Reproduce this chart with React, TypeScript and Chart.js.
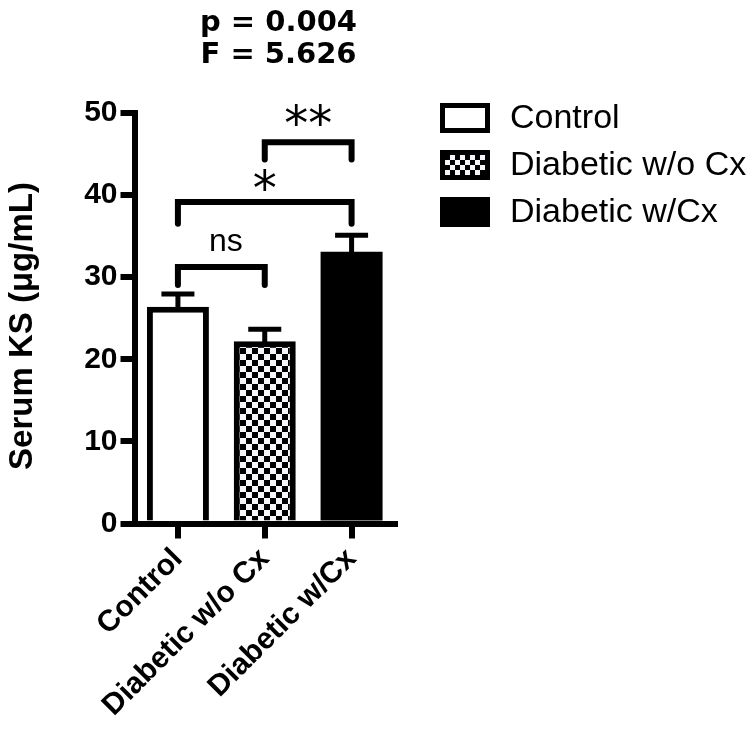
import React, { useEffect, useRef } from 'react';
import { Chart, registerables } from 'chart.js';

Chart.register(...registerables);

// ---- data ----
const categories = ['Control', 'Diabetic w/o Cx', 'Diabetic w/Cx'];
const meanValues = [26.4, 22.2, 33.1];
const errorValues = [1.55, 1.45, 2.0];
const yTickStep = 10;
const yMin = 0;
const yMax = 50;
const yAxisTitle = 'Serum KS (μg/mL)';
const statLines = ['p = 0.004', 'F = 5.626'];

// significance brackets
const bracketFrom = [0, 0, 1];
const bracketTo = [1, 2, 2];
const bracketTop = [31.25, 39.15, 46.45];
const bracketLegEnd = [29.05, 36.5, 44.35];
const bracketLabels = ['ns', '*', '**'];
const bracketLabelValue = [34.2, 41.8, 49.7];

const SANS = '"Liberation Sans", Arial, Helvetica, sans-serif';
const VERD = '"DejaVu Sans", Verdana, sans-serif';

function makeChecker(ctx: CanvasRenderingContext2D, size: number): CanvasPattern | string {
  const c = document.createElement('canvas');
  c.width = size * 2;
  c.height = size * 2;
  const g = c.getContext('2d');
  if (!g) return '#888';
  g.fillStyle = '#f6f6fb';
  g.fillRect(0, 0, size * 2, size * 2);
  g.fillStyle = '#000';
  g.fillRect(0, 0, size, size);
  g.fillRect(size, size, size, size);
  return ctx.createPattern(c, 'repeat') || '#888';
}

function drawCentered(ctx: CanvasRenderingContext2D, text: string, cx: number, cy: number) {
  const m = ctx.measureText(text);
  const asc = m.actualBoundingBoxAscent;
  const desc = m.actualBoundingBoxDescent;
  const left = m.actualBoundingBoxLeft;
  const right = m.actualBoundingBoxRight;
  ctx.textAlign = 'left';
  ctx.textBaseline = 'alphabetic';
  ctx.fillText(text, cx - (right - left) / 2, cy + (asc - desc) / 2);
}

export default function App() {
  const canvasRef = useRef<HTMLCanvasElement | null>(null);

  useEffect(() => {
    const canvas = canvasRef.current;
    if (!canvas) return;
    const ctx = canvas.getContext('2d');
    if (!ctx) return;
    const checker = makeChecker(ctx, 6);
    const legendChecker = makeChecker(ctx, 5);
    const fills = ['#ffffff', checker, '#000000'];
    const legendFills = ['#ffffff', legendChecker, '#000000'];

    const annotations = {
      id: 'annotations',
      afterDraw(chart: any) {
        const c: CanvasRenderingContext2D = chart.ctx;
        const xs = chart.scales.x;
        const ys = chart.scales.y;
        c.save();
        c.fillStyle = '#000';
        c.strokeStyle = '#000';

        // error bars (upper only)
        c.lineWidth = 5;
        c.lineCap = 'butt';
        meanValues.forEach((v, i) => {
          const x = xs.getPixelForValue(i);
          const y0 = ys.getPixelForValue(v);
          const y1 = ys.getPixelForValue(v + errorValues[i]);
          c.beginPath();
          c.moveTo(x, y0 + 3);
          c.lineTo(x, y1);
          c.stroke();
          c.beginPath();
          c.moveTo(x - 16.5, y1);
          c.lineTo(x + 16.5, y1);
          c.stroke();
        });

        // brackets
        c.lineWidth = 6;
        c.lineCap = 'round';
        c.lineJoin = 'miter';
        bracketFrom.forEach((f, i) => {
          const x1 = xs.getPixelForValue(f);
          const x2 = xs.getPixelForValue(bracketTo[i]);
          const yt = ys.getPixelForValue(bracketTop[i]);
          const yl = ys.getPixelForValue(bracketLegEnd[i]);
          c.beginPath();
          c.moveTo(x1, yl);
          c.lineTo(x1, yt);
          c.lineTo(x2, yt);
          c.lineTo(x2, yl);
          c.stroke();
          const lab = bracketLabels[i];
          const ly = ys.getPixelForValue(bracketLabelValue[i]);
          let cx = (x1 + x2) / 2;
          if (lab === 'ns') {
            c.font = `32px ${SANS}`;
            cx += 5;
          } else {
            c.font = `48px ${VERD}`;
          }
          drawCentered(c, lab, cx, ly);
        });

        // y-axis title
        c.save();
        c.translate(23, 326);
        c.rotate(-Math.PI / 2);
        c.font = `bold 33px ${SANS}`;
        c.textAlign = 'center';
        c.textBaseline = 'middle';
        c.fillText(yAxisTitle, 0, 0);
        c.restore();

        // stats text
        c.font = `bold 29px ${VERD}`;
        c.textAlign = 'center';
        c.textBaseline = 'alphabetic';
        statLines.forEach((t, i) => {
          c.fillText(t, 278.5, 31 + i * 32);
        });

        // legend
        c.font = `34px ${SANS}`;
        categories.forEach((name, i) => {
          const cy = 118 + i * 47;
          const bx = 440;
          const bw = 50;
          const bh = 30;
          c.fillStyle = legendFills[i] as any;
          c.fillRect(bx, cy - bh / 2, bw, bh);
          c.lineWidth = 5;
          c.strokeStyle = '#000';
          c.strokeRect(bx + 2.5, cy - bh / 2 + 2.5, bw - 5, bh - 5);
          c.fillStyle = '#000';
          c.textAlign = 'left';
          c.textBaseline = 'middle';
          c.fillText(name, 510, cy + 1);
        });
        c.restore();
      },
    };

    const chart = new Chart(canvas, {
      type: 'bar',
      data: {
        labels: categories,
        datasets: [
          {
            label: 'Serum KS',
            data: meanValues,
            backgroundColor: fills as any,
            borderColor: '#000',
            borderWidth: [6, 6, 0] as any,
            borderSkipped: 'start',
            barPercentage: 0.714,
            categoryPercentage: 1.0,
          },
        ],
      },
      options: {
        responsive: false,
        animation: false,
        devicePixelRatio: 1,
        layout: { padding: { top: 113, right: 355, bottom: 0, left: 0 } },
        plugins: {
          legend: { display: false },
          tooltip: { enabled: false },
          title: { display: false },
        },
        scales: {
          x: {
            type: 'category',
            offset: true,
            ticks: {
              color: '#000',
              font: { family: SANS, size: 30, weight: 'bold' },
              minRotation: 45,
              maxRotation: 45,
              autoSkip: false,
              padding: 3,
            },
            grid: {
              display: true,
              offset: false,
              drawOnChartArea: false,
              drawTicks: true,
              tickLength: 15,
              lineWidth: 6,
              color: '#000',
              z: 1,
            },
            border: { display: true, width: 6, color: '#000', z: 1 },
            afterFit: (s: any) => {
              s.height = 207.5;
            },
          },
          y: {
            min: yMin,
            max: yMax,
            ticks: {
              stepSize: yTickStep,
              color: '#000',
              font: { family: SANS, size: 30, weight: 'bold' },
              padding: 3,
            },
            grid: {
              display: true,
              drawOnChartArea: false,
              drawTicks: true,
              tickLength: 14,
              lineWidth: 6,
              color: '#000',
              z: 1,
            },
            border: { display: true, width: 6, color: '#000', z: 1 },
            title: { display: false },
            afterFit: (s: any) => {
              s.width = 134.5;
            },
          },
        },
      } as any,
      plugins: [annotations],
    });

    return () => chart.destroy();
  }, []);

  return (
    <div style={{ position: 'absolute', left: 0, top: 0, width: 750, height: 731, background: '#fff' }}>
      <canvas ref={canvasRef} width={750} height={731} style={{ display: 'block', width: 750, height: 731 }} />
    </div>
  );
}
